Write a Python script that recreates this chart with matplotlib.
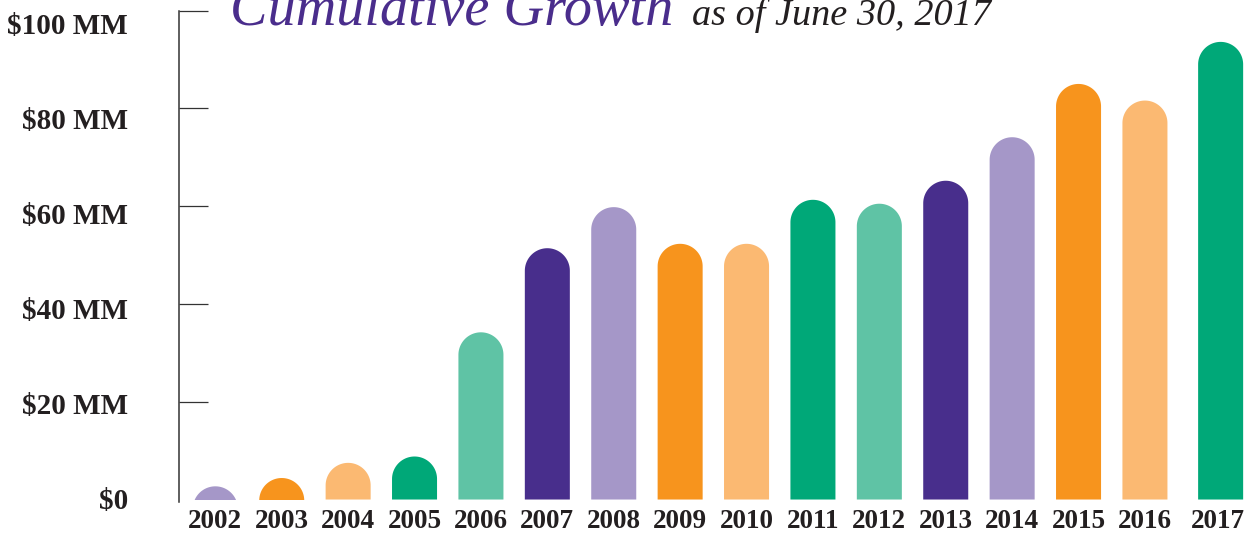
import numpy as np
import matplotlib.pyplot as plt
from matplotlib.patches import Rectangle
from matplotlib.transforms import blended_transform_factory, ScaledTranslation

years = ['2002', '2003', '2004', '2005', '2006', '2007', '2008', '2009',
         '2010', '2011', '2012', '2013', '2014', '2015', '2016', '2017']
growth = [2.7, 4.4, 7.5, 8.8, 34.2, 51.4, 59.8, 52.3,
          52.3, 61.3, 60.5, 65.2, 74.1, 85.0, 81.6, 93.6]
palette = ['#a597c8', '#f7941d', '#fbb972', '#00a878', '#5fc3a5', '#482e8c']
ytick_vals = [0, 20, 40, 60, 80, 100]
ytick_text = [r'\$0', r'\$20 MM', r'\$40 MM', r'\$60 MM', r'\$80 MM', r'\$100 MM']

dark = '#231f20'
purple = '#4a2d8c'
serif = ['Liberation Serif', 'DejaVu Serif']

fig = plt.figure(figsize=(12.44, 5.35), dpi=100)
ax = fig.add_axes([0.1439, 0.0622, 0.856, 0.918])

xpos = np.arange(len(years), dtype=float)
xpos[-1] += 0.14  # little extra gap before the last bar
bar_w = 0.678

ax.set_xlim(-0.547, 15.49)
ax.set_ylim(-0.45, 100)
ax.autoscale(False)

# rounded-top bars, clipped at zero
(px0, py0), (px1, py1) = ax.transData.transform([(0, 0), (1, 1)])
hw = bar_w / 2
ry = hw * (px1 - px0) / (py1 - py0)
clip = Rectangle((-1, 0), 20, 120, transform=ax.transData)
t = np.linspace(0, np.pi, 80)
for i, (x, v) in enumerate(zip(xpos, growth)):
    yc = v - ry
    base = min(0, yc)
    xs = np.concatenate([[x + hw], x + hw * np.cos(t), [x - hw]])
    ys = np.concatenate([[base], yc + ry * np.sin(t), [base]])
    p = ax.fill(xs, ys, color=palette[i % len(palette)], lw=0)[0]
    p.set_clip_path(clip)

for s in ['top', 'right', 'bottom']:
    ax.spines[s].set_visible(False)
ax.spines['left'].set_color('#333333')
ax.spines['left'].set_linewidth(1.1)

ax.set_xticks(xpos, years)
ax.tick_params(axis='x', length=0, pad=5)
xlabels = ax.get_xticklabels()
for lab in xlabels:
    lab.set_fontfamily(serif)
    lab.set_fontweight('bold')
    lab.set_fontsize(19.5)
    lab.set_color(dark)
# keep the last year inside the right edge
xlabels[-1].set_transform(xlabels[-1].get_transform()
                          + ScaledTranslation(-0.03, 0, fig.dpi_scale_trans))

ax.set_yticks(ytick_vals, [''] * len(ytick_vals))
ax.tick_params(axis='y', direction='in', length=20.9, width=0.9, color='#333333')
ax.yaxis.get_major_ticks()[0].tick1line.set_visible(False)

# y labels sit on a slightly tighter spacing than the ticks
trans = blended_transform_factory(ax.transAxes, ax.transData)
for v, txt in zip(ytick_vals, ytick_text):
    dy = 13.3 - (100 - v) * 0.143
    off = ScaledTranslation(-51 / 100, -dy / 100, fig.dpi_scale_trans)
    ax.text(0, v, txt, transform=trans + off, ha='right', va='center_baseline',
            fontsize=21, fontweight='bold', family=serif, color=dark)

fig.text(230 / 1244, (535 - 25) / 535, 'Cumulative Growth', color=purple,
         fontsize=40.5, style='italic', family=serif, va='baseline')
fig.text(692 / 1244, (535 - 25) / 535, 'as of June 30, 2017', color=dark,
         fontsize=27.5, style='italic', family=serif, va='baseline')

fig.savefig('out.png', dpi=100)
